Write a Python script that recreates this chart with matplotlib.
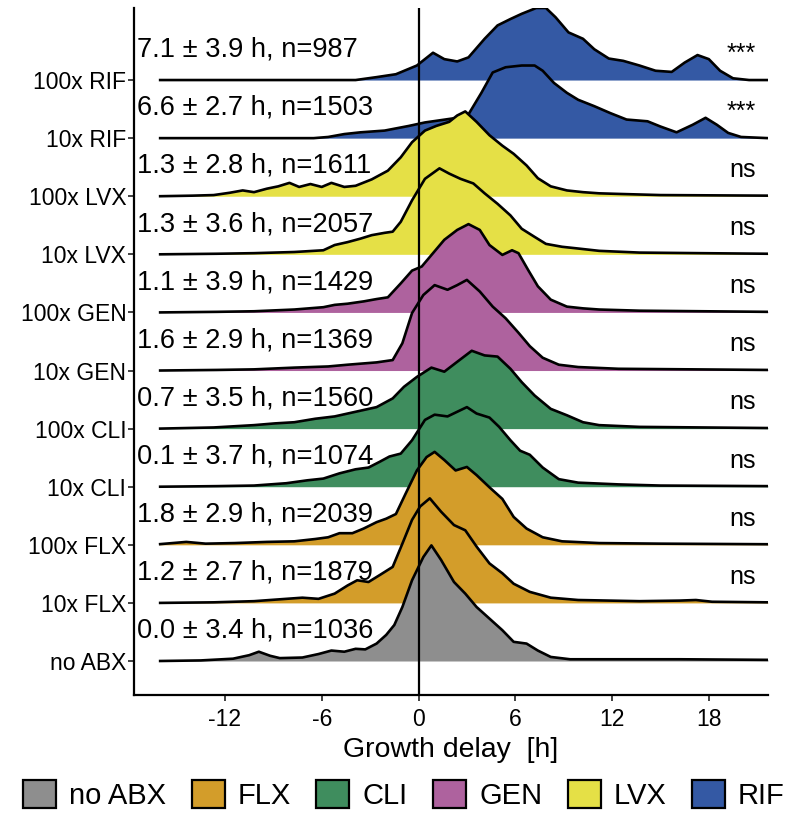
import numpy as np
import matplotlib.pyplot as plt
from matplotlib.patches import Patch

plt.rcParams["font.family"] = ["Liberation Sans", "DejaVu Sans"]

# rows from bottom to top
rows = ["no ABX", "10x FLX", "100x FLX", "10x CLI", "100x CLI",
        "10x GEN", "100x GEN", "10x LVX", "100x LVX", "10x RIF", "100x RIF"]
row_drug = ["no ABX", "FLX", "FLX", "CLI", "CLI",
            "GEN", "GEN", "LVX", "LVX", "RIF", "RIF"]
stats = ["0.0 ± 3.4 h, n=1036", "1.2 ± 2.7 h, n=1879", "1.8 ± 2.9 h, n=2039",
         "0.1 ± 3.7 h, n=1074", "0.7 ± 3.5 h, n=1560", "1.6 ± 2.9 h, n=1369",
         "1.1 ± 3.9 h, n=1429", "1.3 ± 3.6 h, n=2057", "1.3 ± 2.8 h, n=1611",
         "6.6 ± 2.7 h, n=1503", "7.1 ± 3.9 h, n=987"]
signif = ["", "ns", "ns", "ns", "ns", "ns", "ns", "ns", "ns", "***", "***"]

drugs = ["no ABX", "FLX", "CLI", "GEN", "LVX", "RIF"]
drug_colors = ["#8e8e8e", "#d39d2a", "#3f8d5e", "#ae629e", "#e5e046", "#3459a4"]

xticks = [-12, -6, 0, 6, 12, 18]

# density curves: (growth delay [h], ridge height)
no_abx = [(-16.1, 0.0), (-13.5, 0.01), (-11.5, 0.04), (-10.5, 0.10), (-9.9, 0.16),
          (-9.2, 0.09), (-8.6, 0.05), (-7.2, 0.06), (-6.2, 0.12), (-5.4, 0.18),
          (-4.6, 0.16), (-3.9, 0.21), (-3.3, 0.20), (-2.6, 0.30), (-2.0, 0.45),
          (-1.5, 0.62), (-1.0, 0.93), (-0.4, 1.39), (0.3, 1.79), (0.8, 1.99),
          (1.4, 1.74), (2.2, 1.36), (2.9, 1.16), (3.6, 0.93), (4.4, 0.73),
          (5.2, 0.53), (5.9, 0.33), (6.7, 0.30), (7.4, 0.18), (8.2, 0.07),
          (9.4, 0.03), (12.0, 0.03), (16.2, 0.03), (21.67, 0.02)]
flx_10 = [(-16.1, 0.0), (-12.7, 0.01), (-10.2, 0.03), (-8.2, 0.07), (-7.2, 0.09),
          (-6.2, 0.07), (-5.2, 0.16), (-4.4, 0.30), (-3.8, 0.39), (-3.1, 0.36),
          (-2.4, 0.48), (-1.6, 0.62), (-1.0, 1.02), (-0.4, 1.43), (0.1, 1.66),
          (0.7, 1.80), (1.4, 1.57), (2.2, 1.34), (2.9, 1.25), (3.6, 0.97),
          (4.4, 0.68), (5.2, 0.51), (5.9, 0.33), (6.9, 0.19), (8.2, 0.09),
          (9.9, 0.05), (13.7, 0.03), (16.2, 0.04), (17.2, 0.05), (18.2, 0.02),
          (21.67, 0.01)]
flx_100 = [(-16.1, 0.01), (-14.4, 0.05), (-13.2, 0.02), (-11.4, 0.03), (-9.4, 0.05),
           (-7.7, 0.06), (-6.4, 0.10), (-5.6, 0.13), (-4.9, 0.20), (-4.1, 0.20),
           (-3.4, 0.28), (-2.6, 0.39), (-2.0, 0.45), (-1.4, 0.53), (-0.8, 0.88),
           (-0.1, 1.28), (0.5, 1.51), (1.0, 1.60), (1.6, 1.46), (2.3, 1.28),
           (3.0, 1.34), (3.6, 1.20), (4.4, 0.99), (5.2, 0.79), (5.9, 0.48),
           (6.7, 0.28), (7.7, 0.13), (8.9, 0.06), (11.2, 0.03), (15.0, 0.02),
           (21.67, 0.01)]
cli_10 = [(-16.1, 0.0), (-12.5, 0.01), (-10.2, 0.02), (-8.2, 0.06), (-6.9, 0.11),
          (-5.9, 0.14), (-4.9, 0.23), (-3.9, 0.30), (-3.1, 0.33), (-2.4, 0.43),
          (-1.8, 0.52), (-1.1, 0.57), (-0.4, 0.80), (0.4, 1.15), (1.0, 1.24),
          (1.8, 1.21), (2.4, 1.29), (3.0, 1.37), (3.6, 1.26), (4.4, 1.19),
          (5.0, 1.03), (5.7, 0.80), (6.3, 0.62), (6.9, 0.55), (7.7, 0.33),
          (8.7, 0.13), (9.9, 0.07), (12.4, 0.04), (15.0, 0.02), (21.67, 0.01)]
cli_100 = [(-16.1, 0.0), (-12.7, 0.02), (-10.2, 0.06), (-8.9, 0.09), (-7.7, 0.11),
           (-6.4, 0.17), (-5.2, 0.21), (-3.9, 0.29), (-2.6, 0.37), (-1.6, 0.52),
           (-0.9, 0.72), (-0.1, 0.89), (0.8, 1.05), (1.6, 0.98), (2.4, 1.15),
           (3.3, 1.34), (4.1, 1.26), (4.9, 1.24), (5.7, 1.03), (6.4, 0.80),
           (7.2, 0.57), (8.2, 0.34), (9.2, 0.23), (10.2, 0.11), (11.2, 0.06),
           (13.7, 0.03), (21.67, 0.01)]
gen_10 = [(-16.1, 0.0), (-12.5, 0.01), (-10.2, 0.02), (-7.7, 0.05), (-5.6, 0.07),
          (-4.4, 0.10), (-2.6, 0.14), (-1.6, 0.18), (-1.0, 0.47), (-0.4, 0.99),
          (0.3, 1.30), (1.0, 1.47), (1.8, 1.39), (2.4, 1.47), (3.0, 1.56),
          (3.8, 1.36), (4.6, 1.10), (5.4, 0.90), (6.2, 0.65), (6.9, 0.42),
          (7.7, 0.22), (8.7, 0.10), (9.9, 0.06), (12.4, 0.03), (21.67, 0.01)]
gen_100 = [(-16.1, 0.0), (-12.5, 0.01), (-10.2, 0.02), (-7.7, 0.05), (-5.9, 0.09),
           (-5.2, 0.13), (-4.4, 0.15), (-3.4, 0.19), (-2.6, 0.23), (-1.9, 0.26),
           (-1.1, 0.50), (-0.4, 0.72), (0.2, 0.79), (0.9, 1.02), (1.6, 1.25),
           (2.4, 1.42), (3.1, 1.52), (3.8, 1.42), (4.4, 1.16), (5.2, 0.99),
           (5.8, 1.07), (6.2, 1.02), (6.8, 0.73), (7.4, 0.45), (8.2, 0.22),
           (9.2, 0.10), (10.2, 0.07), (11.2, 0.05), (13.7, 0.03), (21.67, 0.01)]
lvx_10 = [(-16.1, 0.0), (-12.5, 0.01), (-10.2, 0.02), (-7.7, 0.04), (-5.9, 0.07),
          (-5.2, 0.16), (-4.4, 0.21), (-3.6, 0.27), (-2.9, 0.33), (-2.1, 0.37),
          (-1.6, 0.39), (-1.1, 0.56), (-0.4, 0.93), (0.4, 1.30), (1.3, 1.48),
          (1.9, 1.39), (2.6, 1.30), (3.4, 1.22), (4.1, 1.05), (4.9, 0.87),
          (5.7, 0.67), (6.4, 0.44), (7.2, 0.30), (7.9, 0.18), (8.9, 0.13),
          (9.9, 0.10), (11.2, 0.06), (13.7, 0.03), (17.5, 0.02), (21.67, 0.01)]
lvx_100 = [(-16.1, 0.0), (-14.0, 0.01), (-12.7, 0.02), (-11.7, 0.06), (-10.9, 0.10),
           (-10.2, 0.07), (-9.4, 0.13), (-8.7, 0.17), (-8.0, 0.23), (-7.4, 0.16),
           (-6.7, 0.21), (-6.0, 0.16), (-5.4, 0.23), (-4.6, 0.16), (-3.9, 0.18),
           (-2.9, 0.29), (-1.9, 0.44), (-1.1, 0.67), (-0.4, 0.93), (0.4, 1.13),
           (1.1, 1.21), (1.9, 1.28), (2.4, 1.39), (2.9, 1.46), (3.6, 1.28),
           (4.4, 1.05), (5.2, 0.87), (5.9, 0.73), (6.7, 0.53), (7.4, 0.31),
           (8.2, 0.17), (9.2, 0.10), (10.2, 0.07), (11.2, 0.05), (12.4, 0.04),
           (15.0, 0.02), (21.67, 0.01)]
rif_10 = [(-16.1, 0.0), (-6.5, 0.0), (-5.6, 0.02), (-4.6, 0.07), (-3.6, 0.10),
          (-2.1, 0.13), (-0.6, 0.21), (0.4, 0.27), (1.4, 0.31), (2.4, 0.35),
          (3.1, 0.41), (3.9, 0.78), (4.6, 1.13), (5.4, 1.22), (6.4, 1.25),
          (7.2, 1.25), (7.7, 1.16), (8.4, 0.95), (9.2, 0.78), (9.9, 0.66),
          (10.9, 0.55), (11.9, 0.43), (12.9, 0.32), (14.2, 0.29), (15.0, 0.20),
          (16.0, 0.10), (17.0, 0.23), (17.8, 0.35), (18.5, 0.23), (19.2, 0.09),
          (20.0, 0.02), (21.67, 0.0)]
rif_100 = [(-16.1, 0.0), (-3.9, 0.0), (-2.6, 0.05), (-1.4, 0.10), (-0.1, 0.25),
           (0.9, 0.47), (1.6, 0.36), (2.4, 0.32), (3.1, 0.39), (4.1, 0.71),
           (4.9, 0.94), (5.7, 1.05), (6.4, 1.14), (7.3, 1.24), (7.9, 1.24),
           (8.5, 1.08), (9.3, 0.82), (10.2, 0.71), (10.9, 0.53), (11.8, 0.37),
           (12.7, 0.33), (13.7, 0.25), (14.7, 0.16), (15.7, 0.14), (16.5, 0.30),
           (17.3, 0.43), (18.0, 0.36), (18.7, 0.16), (19.5, 0.03), (20.5, 0.0),
           (21.67, 0.0)]

curves = [no_abx, flx_10, flx_100, cli_10, cli_100,
          gen_10, gen_100, lvx_10, lvx_100, rif_10, rif_100]


def main():
    fig = plt.figure(figsize=(7.86, 8.15), dpi=100)
    ax = fig.add_axes([134 / 786, 1 - 695 / 815, 634 / 786, 687 / 815])

    # top ridge first so lower ridges overlap it
    for i in range(len(rows) - 1, -1, -1):
        pts = np.array(curves[i])
        x, h = pts[:, 0], pts[:, 1]
        col = drug_colors[drugs.index(row_drug[i])]
        z = 2 * (len(rows) - i)
        ax.fill_between(x, i, i + h, color=col, lw=0, zorder=z)
        ax.plot(x, i + h, color="black", lw=1.9, zorder=z + 1,
                solid_joinstyle="round", solid_capstyle="butt")
        ax.text(-17.45, i + 0.40, stats[i], fontsize=19.6, ha="left",
                va="baseline", zorder=60)
        if signif[i]:
            ax.text(20.9, i + 0.33, signif[i], fontsize=18, ha="right",
                    va="baseline", zorder=60)

    ax.axvline(0, color="black", lw=1.6, zorder=50)

    ax.set_xlim(-17.64, 21.67)
    ax.set_ylim(-0.585, 11.24)
    ax.set_yticks(range(len(rows)))
    ax.set_yticklabels(rows, fontsize=16.5)
    ax.set_xticks(xticks)
    ax.set_xticklabels([str(t) for t in xticks], fontsize=16.5)
    ax.tick_params(axis="both", length=4, width=1.3, color="#333333")
    ax.tick_params(axis="y", pad=1.5)
    ax.tick_params(axis="x", pad=5)
    ax.set_xlabel("Growth delay  [h]", fontsize=20.5, labelpad=4.5)

    for s in ["top", "right"]:
        ax.spines[s].set_visible(False)
    for s in ["left", "bottom"]:
        ax.spines[s].set_linewidth(1.6)

    handles = [Patch(facecolor=c, edgecolor="black", lw=1.6) for c in drug_colors]
    fig.legend(handles, drugs, loc="center", ncol=6, frameon=False,
               bbox_to_anchor=(404 / 786, 1 - 795 / 815), fontsize=21,
               handlelength=1.13, handleheight=1.13, handletextpad=0.45,
               columnspacing=0.87, borderpad=0, borderaxespad=0)

    fig.savefig("out.png", dpi=100)


if __name__ == "__main__":
    main()
